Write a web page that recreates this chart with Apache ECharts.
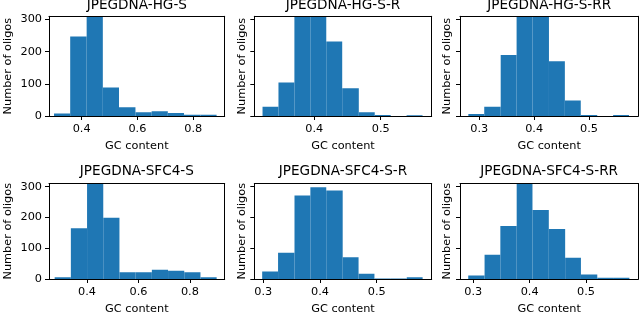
<!DOCTYPE html>
<html><head><meta charset="utf-8">
<script src="https://cdn.jsdelivr.net/npm/echarts@6/dist/echarts.min.js"></script>
<style>html,body{margin:0;padding:0;background:#fff}#c{width:640px;height:316px}</style>
</head><body><div id="c"></div>
<script>
// ---- data ----
const titles = ["JPEGDNA-HG-S", "JPEGDNA-HG-S-R", "JPEGDNA-HG-S-RR",
                "JPEGDNA-SFC4-S", "JPEGDNA-SFC4-S-R", "JPEGDNA-SFC4-S-RR"];
const xName = "GC content";
const yName = "Number of oligos";

const edgesHGS    = [0.301, 0.359, 0.418, 0.476, 0.534, 0.593, 0.651, 0.709, 0.767, 0.826, 0.884];
const edgesHGSR   = [0.322, 0.346, 0.370, 0.394, 0.418, 0.442, 0.467, 0.491, 0.515, 0.539, 0.563];
const edgesHGSRR  = [0.280, 0.309, 0.339, 0.368, 0.397, 0.427, 0.456, 0.485, 0.515, 0.544, 0.573];
const edgesSFCS   = [0.274, 0.337, 0.400, 0.463, 0.526, 0.589, 0.652, 0.715, 0.778, 0.841, 0.904];
const edgesSFCSR  = [0.298, 0.326, 0.355, 0.383, 0.411, 0.440, 0.468, 0.496, 0.524, 0.553, 0.581];
const edgesSFCSRR = [0.291, 0.320, 0.348, 0.377, 0.405, 0.434, 0.463, 0.491, 0.520, 0.548, 0.577];

const countsHGS    = [8, 247, 340, 89, 27, 12, 15, 9, 4, 4];
const countsHGSR   = [29, 104, 335, 322, 232, 86, 12, 3, 0, 2];
const countsHGSRR  = [6, 29, 190, 330, 318, 170, 48, 3, 0, 3];
const countsSFCS   = [6, 165, 340, 199, 22, 22, 30, 27, 22, 6];
const countsSFCSR  = [24, 85, 271, 298, 287, 71, 17, 2, 2, 6];
const countsSFCSRR = [11, 79, 172, 340, 224, 162, 69, 15, 4, 4];

const xTicksHGS    = [0.4, 0.6, 0.8];
const xTicksHGSR   = [0.4, 0.5];
const xTicksHGSRR  = [0.3, 0.4, 0.5];
const xTicksSFCS   = [0.4, 0.6, 0.8];
const xTicksSFCSR  = [0.3, 0.4, 0.5];
const xTicksSFCSRR = [0.3, 0.4, 0.5];
const yTicks = [0, 100, 200, 300];

const xRanges = [[0.283, 0.913], [0.3096, 0.5768], [0.2648, 0.5899],
                 [0.252, 0.9353], [0.2841, 0.597], [0.2764, 0.5928]];
const yRange = [0, 310];

const allEdges  = [edgesHGS, edgesHGSR, edgesHGSRR, edgesSFCS, edgesSFCSR, edgesSFCSRR];
const allCounts = [countsHGS, countsHGSR, countsHGSRR, countsSFCS, countsSFCSR, countsSFCSRR];
const allXTicks = [xTicksHGS, xTicksHGSR, xTicksHGSRR, xTicksSFCS, xTicksSFCSR, xTicksSFCSRR];

// ---- layout (pixels) ----
const colsLeft  = [49, 254.3, 460];
const colsWidth = [175.7, 177.4, 178.3];
const rowsTop    = [16.3, 183.5];
const rowsHeight = [99.7, 98.2];
const titleTop = [-2, 164];

const FONT = 'DejaVu Sans';
const TXT = '#000';
const BAR = '#1f77b4';
const FS = 11.3;

const grid = [], xAxis = [], yAxis = [], series = [], title = [];
for (let i = 0; i < 6; i++) {
  const r = Math.floor(i / 3), c = i % 3;
  grid.push({left: colsLeft[c], top: rowsTop[r], width: colsWidth[c], height: rowsHeight[r], containLabel: false, show: false});
  title.push({text: titles[i], left: colsLeft[c] + colsWidth[c] / 2, top: titleTop[r], textAlign: 'center', padding: 0,
    textStyle: {fontFamily: FONT, fontSize: 13.6, fontWeight: 'normal', color: TXT}});
  xAxis.push({type: 'value', gridIndex: i, min: xRanges[i][0], max: xRanges[i][1], position: 'bottom', z: 5,
    name: xName, nameLocation: 'middle', nameGap: 25,
    nameTextStyle: {fontFamily: FONT, fontSize: FS, color: TXT},
    axisLine: {show: true, onZero: false, lineStyle: {color: '#000', width: 1}},
    axisTick: {show: true, inside: false, length: 4, lineStyle: {color: '#000'}, customValues: allXTicks[i]},
    axisLabel: {show: true, margin: 8, fontFamily: FONT, fontSize: FS, color: TXT, customValues: allXTicks[i],
      formatter: v => v.toFixed(1)},
    splitLine: {show: false}});
  xAxis.push({type: 'value', gridIndex: i, min: xRanges[i][0], max: xRanges[i][1], position: 'top', z: 5,
    axisLine: {show: true, onZero: false, lineStyle: {color: '#000', width: 1}},
    axisTick: {show: false}, axisLabel: {show: false}, splitLine: {show: false}});
  yAxis.push({type: 'value', gridIndex: i, min: yRange[0], max: yRange[1], position: 'left', z: 5,
    name: yName, nameLocation: 'middle', nameGap: c === 0 ? 35 : 7,
    nameTextStyle: {fontFamily: FONT, fontSize: FS, color: TXT},
    axisLine: {show: true, onZero: false, lineStyle: {color: '#000', width: 1}},
    axisTick: {show: true, inside: false, length: 4, lineStyle: {color: '#000'}, customValues: yTicks},
    axisLabel: {show: c === 0, margin: 7, fontFamily: FONT, fontSize: FS, color: TXT, customValues: yTicks},
    splitLine: {show: false}});
  yAxis.push({type: 'value', gridIndex: i, min: yRange[0], max: yRange[1], position: 'right', z: 5,
    axisLine: {show: true, onZero: false, lineStyle: {color: '#000', width: 1}},
    axisTick: {show: false}, axisLabel: {show: false}, splitLine: {show: false}});

  const edges = allEdges[i], counts = allCounts[i];
  const data = counts.map((v, k) => [edges[k], edges[k + 1], v]);
  series.push({type: 'custom', xAxisIndex: 2 * i, yAxisIndex: 2 * i, clip: true, z: 2, silent: true, animation: false,
    data: data,
    renderItem: function (params, api) {
      const p0 = api.coord([api.value(0), api.value(2)]);
      const p1 = api.coord([api.value(1), 0]);
      const shape = echarts.graphic.clipRectByRect(
        {x: p0[0], y: p0[1], width: p1[0] - p0[0], height: p1[1] - p0[1]},
        {x: params.coordSys.x, y: params.coordSys.y, width: params.coordSys.width, height: params.coordSys.height});
      if (!shape) return null;
      return {type: 'rect', shape: shape, style: {fill: BAR}};
    }});
}

const chart = echarts.init(document.getElementById('c'), null, {renderer: 'canvas'});
chart.setOption({animation: false, backgroundColor: '#fff', title, grid, xAxis, yAxis, series});
</script></body></html>
